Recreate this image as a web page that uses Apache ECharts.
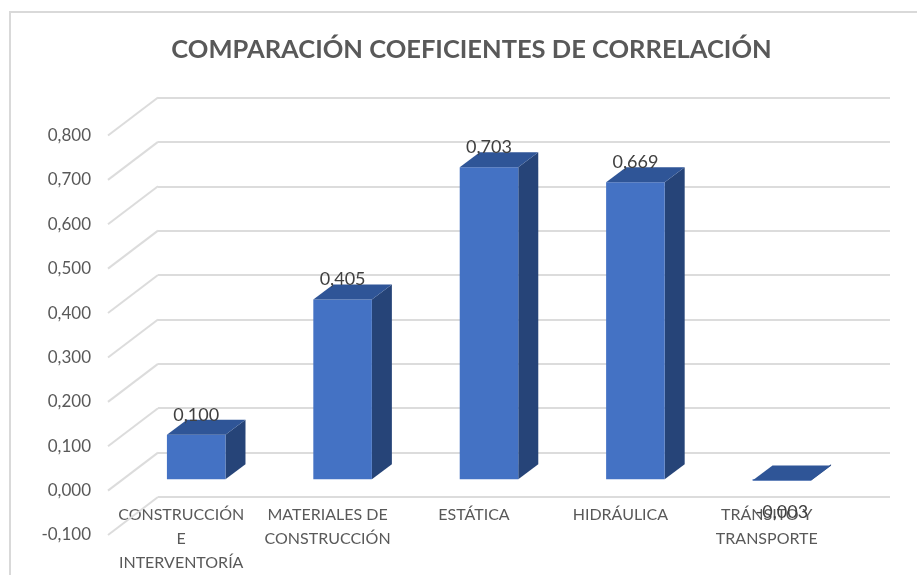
<!DOCTYPE html>
<html>
<head>
<meta charset="utf-8">
<style>
html, body { margin: 0; padding: 0; background: #fff; }
#chart { width: 917px; height: 575px; }
</style>
<script src="https://cdn.jsdelivr.net/npm/echarts@6/dist/echarts.min.js"></script>
</head>
<body>
<div id="chart"></div>
<script>
var categories = ["CONSTRUCCIÓN\nE\nINTERVENTORÍA", "MATERIALES DE\nCONSTRUCCIÓN", "ESTÁTICA", "HIDRÁULICA", "TRÁNSITO Y\nTRANSPORTE"];
var values = [0.100, 0.405, 0.703, 0.669, -0.003];
var yTicks = [-0.1, 0, 0.1, 0.2, 0.3, 0.4, 0.5, 0.6, 0.7, 0.8];

// fake 3d: wall is shifted from the front plane by this much
var wallDx = 50, wallDy = -38;
var barShift = 0.3;
var barDepthX = 20, barDepthY = -15;

function fmt(v) {
    return v.toFixed(3).replace(".", ",");
}

function renderWallLine(params, api) {
    var p = api.coord([0, api.value(0)]);
    var x = params.coordSys.x;
    return {
        type: "line",
        shape: { x1: x, y1: p[1], x2: x + wallDx, y2: p[1] + wallDy },
        style: { stroke: "#dcdcdc", lineWidth: 2 }
    };
}

function renderBar(params, api) {
    var i = api.value(0);
    var v = api.value(1);
    var w = api.size([1, 0])[0] * 0.4;
    var sx = wallDx * barShift, sy = wallDy * barShift;
    var top = api.coord([i, v]);
    var base = api.coord([i, 0]);
    var x0 = top[0] + sx - w / 2, x1 = x0 + w;
    var yt = top[1] + sy, yb = base[1] + sy;
    var dx = barDepthX, dy = barDepthY;
    var labelY = v < 0 ? yt + 32 : yt - 20;
    return {
        type: "group",
        children: [
            {
                type: "polygon",
                shape: { points: [[x1, yt], [x1 + dx, yt + dy], [x1 + dx, yb + dy], [x1, yb]] },
                style: { fill: "#264478" }
            },
            {
                type: "rect",
                shape: { x: x0, y: yt, width: w, height: yb - yt },
                style: { fill: "#4472c4" }
            },
            {
                type: "polygon",
                shape: { points: [[x0, yt], [x0 + dx, yt + dy], [x1 + dx, yt + dy], [x1, yt]] },
                style: { fill: "#2f5597" }
            },
            {
                type: "text",
                z2: 10,
                style: {
                    x: x0 + w / 2,
                    y: labelY,
                    text: fmt(v),
                    align: "center",
                    verticalAlign: "middle",
                    fill: "#404040",
                    font: "18px Lato"
                }
            }
        ]
    };
}

var option = {
    animation: false,
    backgroundColor: "#fff",
    title: {
        text: "COMPARACIÓN COEFICIENTES DE CORRELACIÓN",
        left: 466.5,
        top: 32,
        textAlign: "center",
        textStyle: { fontFamily: "Lato", fontSize: 25.5, fontWeight: "bold", color: "#595959" }
    },
    graphic: [{
        type: "rect",
        // only the top and left edges are in frame
        shape: { x: 10, y: 12, width: 1000, height: 700 },
        style: { fill: "none", stroke: "#d9d9d9", lineWidth: 2 },
        silent: true
    }],
    grid: [
        { left: 158, top: 97.5, width: 732, height: 399.5 },
        { left: 108, top: 135.5, width: 732, height: 399.5 }
    ],
    xAxis: [
        { gridIndex: 0, type: "category", data: categories, show: false },
        {
            gridIndex: 1,
            type: "category",
            data: categories,
            axisLine: { show: false },
            axisTick: { show: false },
            axisLabel: {
                interval: 0,
                margin: -32,
                color: "#595959",
                fontFamily: "Lato",
                fontSize: 16,
                lineHeight: 24
            }
        }
    ],
    yAxis: [
        {
            gridIndex: 0,
            type: "value",
            min: -0.1,
            max: 0.8,
            interval: 0.1,
            axisLine: { show: false },
            axisTick: { show: false },
            axisLabel: { show: false },
            splitLine: { show: true, lineStyle: { color: "#dcdcdc", width: 2 } }
        },
        {
            gridIndex: 1,
            type: "value",
            min: -0.1,
            max: 0.8,
            interval: 0.1,
            axisLine: { show: false },
            axisTick: { show: false },
            splitLine: { show: false },
            axisLabel: {
                margin: 17,
                padding: [3, 0, 0, 0],
                color: "#595959",
                fontFamily: "Lato",
                fontSize: 17,
                formatter: fmt
            }
        }
    ],
    series: [
        {
            type: "custom",
            xAxisIndex: 1,
            yAxisIndex: 1,
            silent: true,
            encode: { y: 0 },
            data: yTicks,
            renderItem: function (params, api) {
                return renderWallLine(params, api);
            }
        },
        {
            type: "custom",
            xAxisIndex: 1,
            yAxisIndex: 1,
            encode: { x: 0, y: 1 },
            data: values.map(function (v, i) { return [i, v]; }),
            renderItem: renderBar,
            z: 5
        }
    ]
};

var chart = echarts.init(document.getElementById("chart"));
chart.setOption(option);
</script>
</body>
</html>
